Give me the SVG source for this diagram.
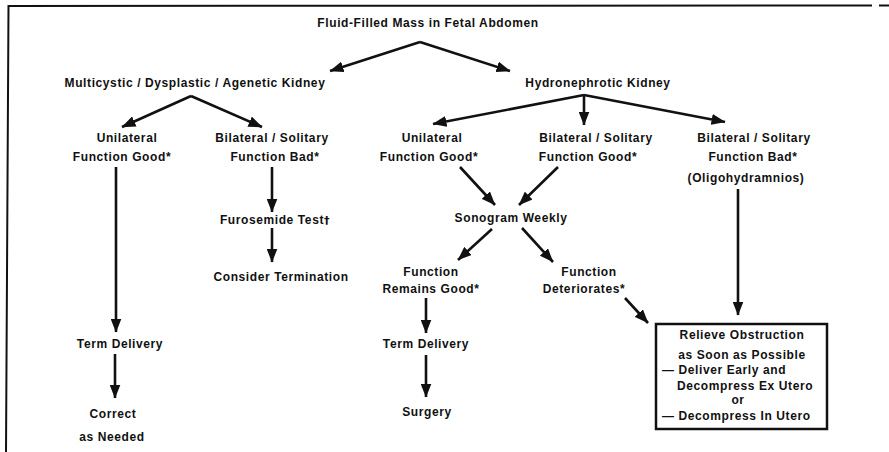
<svg xmlns="http://www.w3.org/2000/svg" width="889" height="452" viewBox="0 0 889 452">
<defs>
<style>
text{font-family:"Liberation Sans",Arial,sans-serif;font-weight:bold;font-size:12px;letter-spacing:0.6px;fill:#111;text-anchor:middle}
.l{text-anchor:start}
.dg{font-family:"DejaVu Sans","Liberation Sans",sans-serif;font-size:11px;fill:#111}
.c line{stroke:#111;stroke-width:2.6;fill:none}
.frame{stroke:#111;stroke-width:2;fill:none}
</style>
<marker id="ah" markerUnits="userSpaceOnUse" viewBox="0 0 14 11" refX="13.5" refY="5.5" markerWidth="14" markerHeight="11" orient="auto">
<path d="M0,0 L14,5.5 L0,11 Z" fill="#111"/>
</marker>
</defs>
<rect width="889" height="452" fill="#fff"/>
<g id="frame">
<polyline class="frame" points="6,452 8.5,6 872,5.5"/>
<line class="frame" x1="879" y1="5.5" x2="889" y2="5.5"/>
</g>
<g class="c" id="connectors">
<line x1="420" y1="42" x2="330" y2="71" marker-end="url(#ah)"/>
<line x1="420" y1="42" x2="510" y2="71" marker-end="url(#ah)"/>
<line x1="191" y1="96" x2="122" y2="127" marker-end="url(#ah)"/>
<line x1="191" y1="96" x2="262" y2="127" marker-end="url(#ah)"/>
<line x1="116" y1="167" x2="116" y2="332" marker-end="url(#ah)"/>
<line x1="272" y1="167" x2="272" y2="212" marker-end="url(#ah)"/>
<line x1="272" y1="228" x2="272" y2="262" marker-end="url(#ah)"/>
<line x1="115" y1="354" x2="115" y2="398" marker-end="url(#ah)"/>
<line x1="584" y1="95" x2="433" y2="124" marker-end="url(#ah)"/>
<line x1="584" y1="95" x2="584" y2="125" marker-end="url(#ah)"/>
<line x1="584" y1="95" x2="725" y2="122" marker-end="url(#ah)"/>
<line x1="460" y1="167" x2="495" y2="205" marker-end="url(#ah)"/>
<line x1="558" y1="167" x2="519" y2="205" marker-end="url(#ah)"/>
<line x1="738" y1="189" x2="738" y2="315" marker-end="url(#ah)"/>
<line x1="492" y1="229" x2="458" y2="260" marker-end="url(#ah)"/>
<line x1="522" y1="228" x2="553" y2="262" marker-end="url(#ah)"/>
<line x1="426" y1="298" x2="426" y2="333" marker-end="url(#ah)"/>
<line x1="426" y1="355" x2="426" y2="397" marker-end="url(#ah)"/>
<line x1="625" y1="298" x2="648" y2="323" marker-end="url(#ah)"/>
</g>
<g id="n-root"><text x="428" y="27">Fluid-Filled Mass in Fetal Abdomen</text></g>
<g id="n-multicystic"><text x="195" y="87">Multicystic / Dysplastic / Agenetic Kidney</text></g>
<g id="n-hydro"><text x="598" y="87">Hydronephrotic Kidney</text></g>
<g id="n-m-unilateral"><text x="127" y="142">Unilateral</text><text x="122" y="161">Function Good*</text></g>
<g id="n-m-bilateral"><text x="272" y="142">Bilateral / Solitary</text><text x="275" y="161">Function Bad*</text></g>
<g id="n-furosemide"><text x="275" y="224">Furosemide Test<tspan class="dg">†</tspan></text></g>
<g id="n-termination"><text x="281" y="281">Consider Termination</text></g>
<g id="n-m-term"><text x="120" y="348">Term Delivery</text></g>
<g id="n-correct"><text x="113" y="418">Correct</text><text x="112" y="441">as Needed</text></g>
<g id="n-h-unilateral"><text x="432" y="142">Unilateral</text><text x="429" y="161">Function Good*</text></g>
<g id="n-h-bilateral-good"><text x="596" y="142">Bilateral / Solitary</text><text x="588" y="161">Function Good*</text></g>
<g id="n-h-bilateral-bad"><text x="754" y="142">Bilateral / Solitary</text><text x="753" y="161">Function Bad*</text><text x="746" y="182">(Oligohydramnios)</text></g>
<g id="n-sonogram"><text x="511" y="222">Sonogram Weekly</text></g>
<g id="n-remains"><text x="431" y="276">Function</text><text x="431" y="293">Remains Good*</text></g>
<g id="n-deteriorates"><text x="589" y="276">Function</text><text x="584" y="293">Deteriorates*</text></g>
<g id="n-h-term"><text x="426" y="348">Term Delivery</text></g>
<g id="n-surgery"><text x="427" y="416">Surgery</text></g>
<g id="n-relieve">
<rect x="656" y="324" width="171" height="105" fill="#fff" stroke="#111" stroke-width="2.5"/>
<text x="742" y="339">Relieve Obstruction</text>
<text x="742" y="359">as Soon as Possible</text>
<text class="l" x="662" y="374">— Deliver Early and</text>
<text class="l" x="677" y="390">Decompress Ex Utero</text>
<text x="738" y="404">or</text>
<text class="l" x="662" y="420">— Decompress In Utero</text>
</g>
</svg>
